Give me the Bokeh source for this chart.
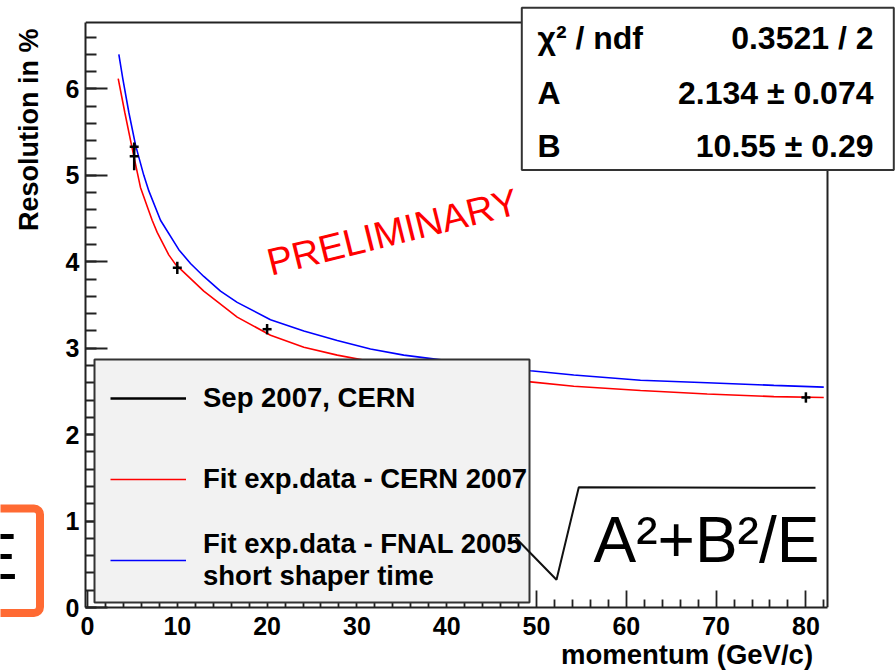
import numpy as np
from bokeh.plotting import figure
from bokeh.layouts import column, row
from bokeh.models import (Range1d, FixedTicker, Legend, LegendItem, BoxAnnotation, Label)
from bokeh.embed import file_html
from bokeh.resources import INLINE

# ---------------- data ----------------
meas_energy = [5.2, 5.2, 10.0, 20.0, 80.0]
meas_res = [5.33, 5.22, 3.93, 3.22, 2.43]
meas_err = [0.04, 0.16, 0.07, 0.06, 0.06]
meas_xerr = [0.5, 0.5, 0.5, 0.5, 0.5]

cern_fit_energy = [3.42, 4.15, 4.90, 5.53, 5.90, 6.65, 7.20, 7.76, 9.05, 9.8, 12.95,
                   16.67, 20.38, 24.09, 27.81, 35.0, 42.0, 49.33, 54.15, 61.58,
                   69.01, 76.43, 81.99]
cern_fit_res = [6.12, 5.73, 5.35, 5.04, 4.86, 4.64, 4.48, 4.34, 4.08, 3.97, 3.66,
                3.36, 3.15, 3.01, 2.92, 2.78, 2.68, 2.61, 2.56, 2.51,
                2.47, 2.44, 2.43]

fnal_fit_energy = [3.49, 3.93, 4.60, 5.35, 6.27, 6.83, 8.13, 10.17, 11.47, 12.95,
                   14.81, 16.67, 20.38, 24.09, 27.81, 31.51, 35.22, 42.0, 49.33,
                   54.15, 61.58, 69.01, 76.43, 81.99]
fnal_fit_res = [6.40, 6.12, 5.73, 5.35, 5.00, 4.82, 4.48, 4.14, 3.98, 3.83,
                3.66, 3.53, 3.33, 3.20, 3.09, 2.99, 2.92, 2.83, 2.74,
                2.69, 2.63, 2.60, 2.57, 2.55]

x_major_ticks = [0, 10, 20, 30, 40, 50, 60, 70, 80]
y_major_ticks = [0, 1, 2, 3, 4, 5, 6]

legend_labels = ["Sep 2007, CERN",
                 "Fit exp.data - CERN 2007",
                 "Fit exp.data - FNAL 2005\nshort shaper time"]
fit_names = ["\u03c7\u00b2 / ndf", "A", "B"]
fit_values = ["0.3521 / 2", "2.134 \u00b1 0.074", "10.55 \u00b1 0.29"]
x_title = "momentum (GeV/c)"
y_title = "Resolution in %"
watermark = "PRELIMINARY"
formula = "A\u00b2+B\u00b2/E"

# ---------------- geometry (picture pixels) ----------------
TOTAL_W, TOTAL_H = 895, 670
STRIP_W = 60            # left strip: y title and cut-off slide element
MAIN_H = 644            # main figure height; bottom strip below holds the x title
FRAME_L, FRAME_R, FRAME_T, FRAME_B = 85, 827, 22, 607   # ROOT frame
X0_PX, PX_PER_X, PX_PER_Y = 87.0, 8.98, 86.43
MID = 0.3465            # (ascent - descent) / 2 of Liberation Sans, in em


def xd(px):
    return (px - X0_PX) / PX_PER_X


def yd(py):
    return (FRAME_B - py) / PX_PER_Y


def ly(py):
    # strips use a y axis pointing up from the bottom of the picture
    return TOTAL_H - py


FONT = "Liberation Sans"
FRAME_COL = "#222222"


def plain_fig(w, h, xr, yr):
    return figure(width=w, height=h, x_range=xr, y_range=yr, x_axis_type=None,
                  y_axis_type=None, output_backend="svg", toolbar_location=None,
                  min_border=0, outline_line_color=None,
                  background_fill_color="white", border_fill_color="white")


def label(fig, fx, fy, text, px, baseline_py, size, angle_deg=0.0, **kw):
    """Place text so its alphabetic baseline passes through (px, baseline_py)."""
    th = np.deg2rad(angle_deg)
    d = MID * size
    ax_px = px - d * np.sin(th)
    ax_py = baseline_py - d * np.cos(th)
    opts = dict(text_font=FONT, text_color="black", text_baseline="middle",
                text_font_size=f"{size}px", angle=th)
    opts.update(kw)
    fig.add_layout(Label(x=fx(ax_px), y=fy(ax_py), text=text, **opts))


# ---------------- main figure ----------------
p = figure(width=TOTAL_W - STRIP_W, height=MAIN_H,
           x_range=Range1d(xd(FRAME_L), xd(TOTAL_W)),
           y_range=Range1d(0, yd(0)),
           output_backend="svg", toolbar_location=None,
           min_border_left=FRAME_L - STRIP_W, min_border_top=0,
           min_border_right=0, min_border_bottom=MAIN_H - FRAME_B,
           background_fill_color="white", border_fill_color="white",
           outline_line_color=None)
p.xgrid.visible = False
p.ygrid.visible = False

xminor = [float(v) for v in np.arange(0, 84, 2) if v not in x_major_ticks]
yminor = [round(float(v), 2) for v in np.arange(0, 6.8, 0.2)]

xa = p.below[0]
xa.ticker = FixedTicker(ticks=x_major_ticks, minor_ticks=xminor)
xa.bounds = (xd(FRAME_L), xd(FRAME_R))
xa.major_tick_in, xa.major_tick_out = 17, 0
xa.minor_tick_in, xa.minor_tick_out = 8, 0
xa.major_label_standoff = 9

ya = p.left[0]
ya.ticker = FixedTicker(ticks=y_major_ticks, minor_ticks=yminor)
ya.bounds = (0, yd(FRAME_T))
ya.major_tick_in, ya.major_tick_out = 22, 0
ya.minor_tick_in, ya.minor_tick_out = 11, 0
ya.major_label_standoff = 6

for ax in (xa, ya):
    ax.axis_line_color = FRAME_COL
    ax.axis_line_width = 2
    ax.major_tick_line_color = FRAME_COL
    ax.minor_tick_line_color = FRAME_COL
    ax.major_tick_line_width = 1.8
    ax.minor_tick_line_width = 1.8
    ax.major_label_text_font = FONT
    ax.major_label_text_font_style = "bold"
    ax.major_label_text_font_size = "25px"
    ax.major_label_text_color = "black"

# top and right sides of the ROOT frame
p.line([xd(FRAME_L), xd(FRAME_R), xd(FRAME_R)], [yd(FRAME_T), yd(FRAME_T), 0],
       line_color=FRAME_COL, line_width=2)

# data glyphs
r_red = p.line(cern_fit_energy, cern_fit_res, line_color="#ff0000", line_width=1.6)
r_blue = p.line(fnal_fit_energy, fnal_fit_res, line_color="#0000ff", line_width=1.6)

e = np.array(meas_energy)
r = np.array(meas_res)
dr = np.array(meas_err)
de = np.array(meas_xerr)
r_pts = p.segment(x0=e, y0=r - dr, x1=e, y1=r + dr, line_color="black", line_width=2.5)
p.segment(x0=e - de, y0=r, x1=e + de, y1=r, line_color="black", line_width=2.5)

# legend box + legend
p.add_layout(BoxAnnotation(left=xd(94), right=xd(529), bottom=yd(602), top=yd(359),
                           fill_color="#f2f2f2", fill_alpha=1,
                           line_color="#333333", line_alpha=1, line_width=2))
legend = Legend(items=[LegendItem(label=legend_labels[0], renderers=[r_pts]),
                       LegendItem(label=legend_labels[1], renderers=[r_red]),
                       LegendItem(label=legend_labels[2], renderers=[r_blue])],
                location=(110 - FRAME_L, 13), padding=0, spacing=13, margin=0,
                glyph_width=76, glyph_height=68, label_height=68, label_standoff=17,
                label_text_font=FONT, label_text_font_style="bold",
                label_text_font_size="27.5px", label_text_color="black",
                label_text_line_height=1.15,
                background_fill_alpha=0, border_line_color=None)
p.add_layout(legend, "center")

# fit statistics box
p.add_layout(BoxAnnotation(left=xd(521.3), right=xd(893.3), bottom=yd(169.5), top=yd(7.3),
                           fill_color="white", fill_alpha=1,
                           line_color="#333333", line_alpha=1, line_width=2))
row_baselines = [49, 104, 156.5]
for name, val, yb in zip(fit_names, fit_values, row_baselines):
    label(p, xd, yd, name, 537, yb, 32, text_font_style="bold")
    label(p, xd, yd, val, 873, yb, 32, text_font_style="bold", text_align="right")

# watermark and formula
label(p, xd, yd, watermark, 270.5, 275.5, 38, angle_deg=14, text_color="#ff0000")
label(p, xd, yd, formula, 593, 562, 64)
root_px = [515, 556, 578.3, 815]
root_py = [537.3, 579.3, 486.7, 487.3]
p.line([xd(v) for v in root_px], [yd(v) for v in root_py], line_color="#111111",
       line_width=2, level="overlay")

# ---------------- left strip: y title and cut-off slide element ----------------
left = plain_fig(STRIP_W, TOTAL_H, Range1d(0, STRIP_W), Range1d(0, TOTAL_H))
left.add_layout(BoxAnnotation(left=-20, right=39.5, bottom=ly(612.5), top=ly(508),
                              fill_alpha=0, line_color="#ff6a33", line_alpha=1,
                              line_width=8, border_radius=6))
label(left, lambda v: v, ly, "E", -25.4, 579, 64)
label(left, lambda v: v, ly, y_title, 37.5, 28, 27, angle_deg=90,
      text_align="right", text_font_style="bold")

# ---------------- bottom strip: x title ----------------
bottom = plain_fig(TOTAL_W - STRIP_W, TOTAL_H - MAIN_H, Range1d(STRIP_W, TOTAL_W),
                   Range1d(0, TOTAL_H - MAIN_H))
label(bottom, lambda v: v, ly, x_title, 810, 663.5, 27.5, text_align="right",
      text_font_style="bold")

layout = row(left, column(p, bottom))
open("out.html", "w").write(file_html(layout, INLINE))
